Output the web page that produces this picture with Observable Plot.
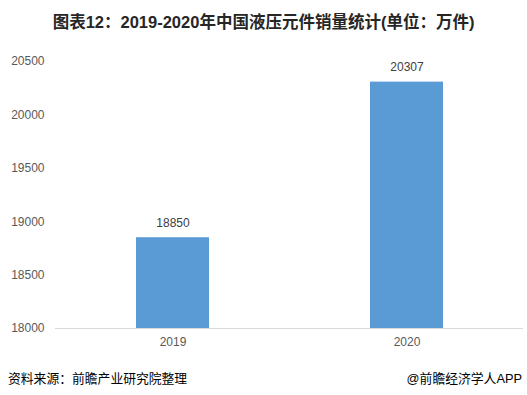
<!DOCTYPE html>
<html><head><meta charset="utf-8">
<script src="https://cdn.jsdelivr.net/npm/d3@7"></script>
<script src="https://cdn.jsdelivr.net/npm/@observablehq/plot@0.6"></script>
<style>
body{margin:0;background:#fff;width:527px;height:395px;overflow:hidden;font-family:"Liberation Sans","Noto Sans CJK SC",sans-serif;}
#title{height:45px;line-height:44px;text-align:center;font-weight:bold;font-size:16.5px;color:#262626;font-family:"Liberation Sans","Noto Sans CJK SC",sans-serif;}
#chart{height:310px;}
#foot{position:relative;height:40px;font-size:12.8px;color:#000;}
#foot .l{position:absolute;left:8px;top:13px;}
#foot .r{position:absolute;right:5px;top:13px;}
</style></head>
<body>
<div id="title">图表12：2019-2020年中国液压元件销量统计(单位：万件)</div>
<div id="chart"></div>
<div id="foot"><span class="l">资料来源：前瞻产业研究院整理</span><span class="r">@前瞻经济学人APP</span></div>
<script>
const years = ["2019", "2020"];
const sales = [18850, 20307];
const yTicks = [18000, 18500, 19000, 19500, 20000, 20500];
const data = years.map((y, i) => ({year: y, value: sales[i]}));
const chart = Plot.plot({
  width: 527, height: 310,
  marginLeft: 55, marginRight: 4, marginTop: 16, marginBottom: 27,
  style: {fontFamily: "Liberation Sans, sans-serif", fontSize: "12px", color: "#595959", background: "#fff"},
  x: {domain: years, paddingInner: 0.69, paddingOuter: 0.345, label: null, tickSize: 0, tickPadding: 9},
  y: {domain: [18000, 20500], ticks: yTicks, label: null, tickSize: 0, tickPadding: 11, tickFormat: d => String(d)},
  marks: [
    Plot.barY(data, {x: "year", y1: 18000, y2: "value", fill: "#5b9bd5"}),
    Plot.ruleY([18000], {stroke: "#d9d9d9", strokeWidth: 1}),
    Plot.text(data, {x: "year", y: "value", text: d => String(d.value), dy: -15, fill: "#404040", fontSize: 12})
  ]
});
document.getElementById("chart").appendChild(chart);
</script>
</body></html>
